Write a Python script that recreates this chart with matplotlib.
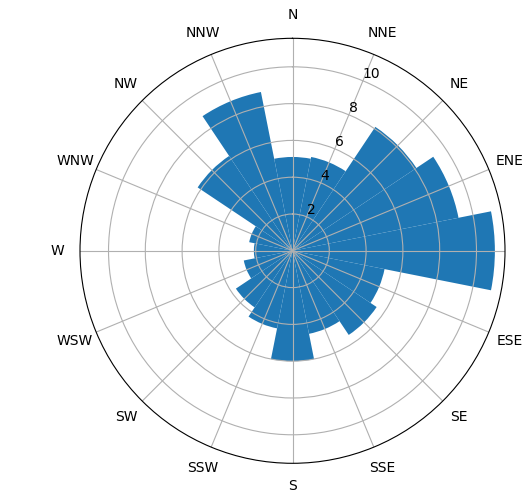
import numpy as np
import matplotlib
matplotlib.use("Agg")
import matplotlib.pyplot as plt

# compass directions, clockwise from north
directions = ['N', 'NNE', 'NE', 'ENE', 'E', 'ESE', 'SE', 'SSE',
              'S', 'SSW', 'SW', 'WSW', 'W', 'WNW', 'NW', 'NNW']
# bar lengths
speeds = [5.1, 5.2, 8.1, 9.2, 11.0, 5.1, 5.5, 4.6,
          6.0, 4.3, 3.7, 2.7, 2.1, 2.4, 6.2, 8.8]
r_ticks = [2, 4, 6, 8, 10]

theta = np.deg2rad(np.arange(len(directions)) * 360 / len(directions))
width = 2 * np.pi / len(directions)

fig = plt.figure(figsize=(5.25, 4.92), dpi=100)
ax = fig.add_axes([80 / 525, 28.7 / 492, 425 / 525, 425 / 492], projection='polar')
ax.set_theta_zero_location('N')
ax.set_theta_direction(-1)

ax.bar(theta, speeds, width=width, color='#1f77b4')

ax.set_xticks(theta)
ax.set_xticklabels(directions)
ax.set_yticks(r_ticks)
ax.set_rlabel_position(22.5)
ax.tick_params(axis='x', pad=6)

fig.savefig('out.png', dpi=100)
